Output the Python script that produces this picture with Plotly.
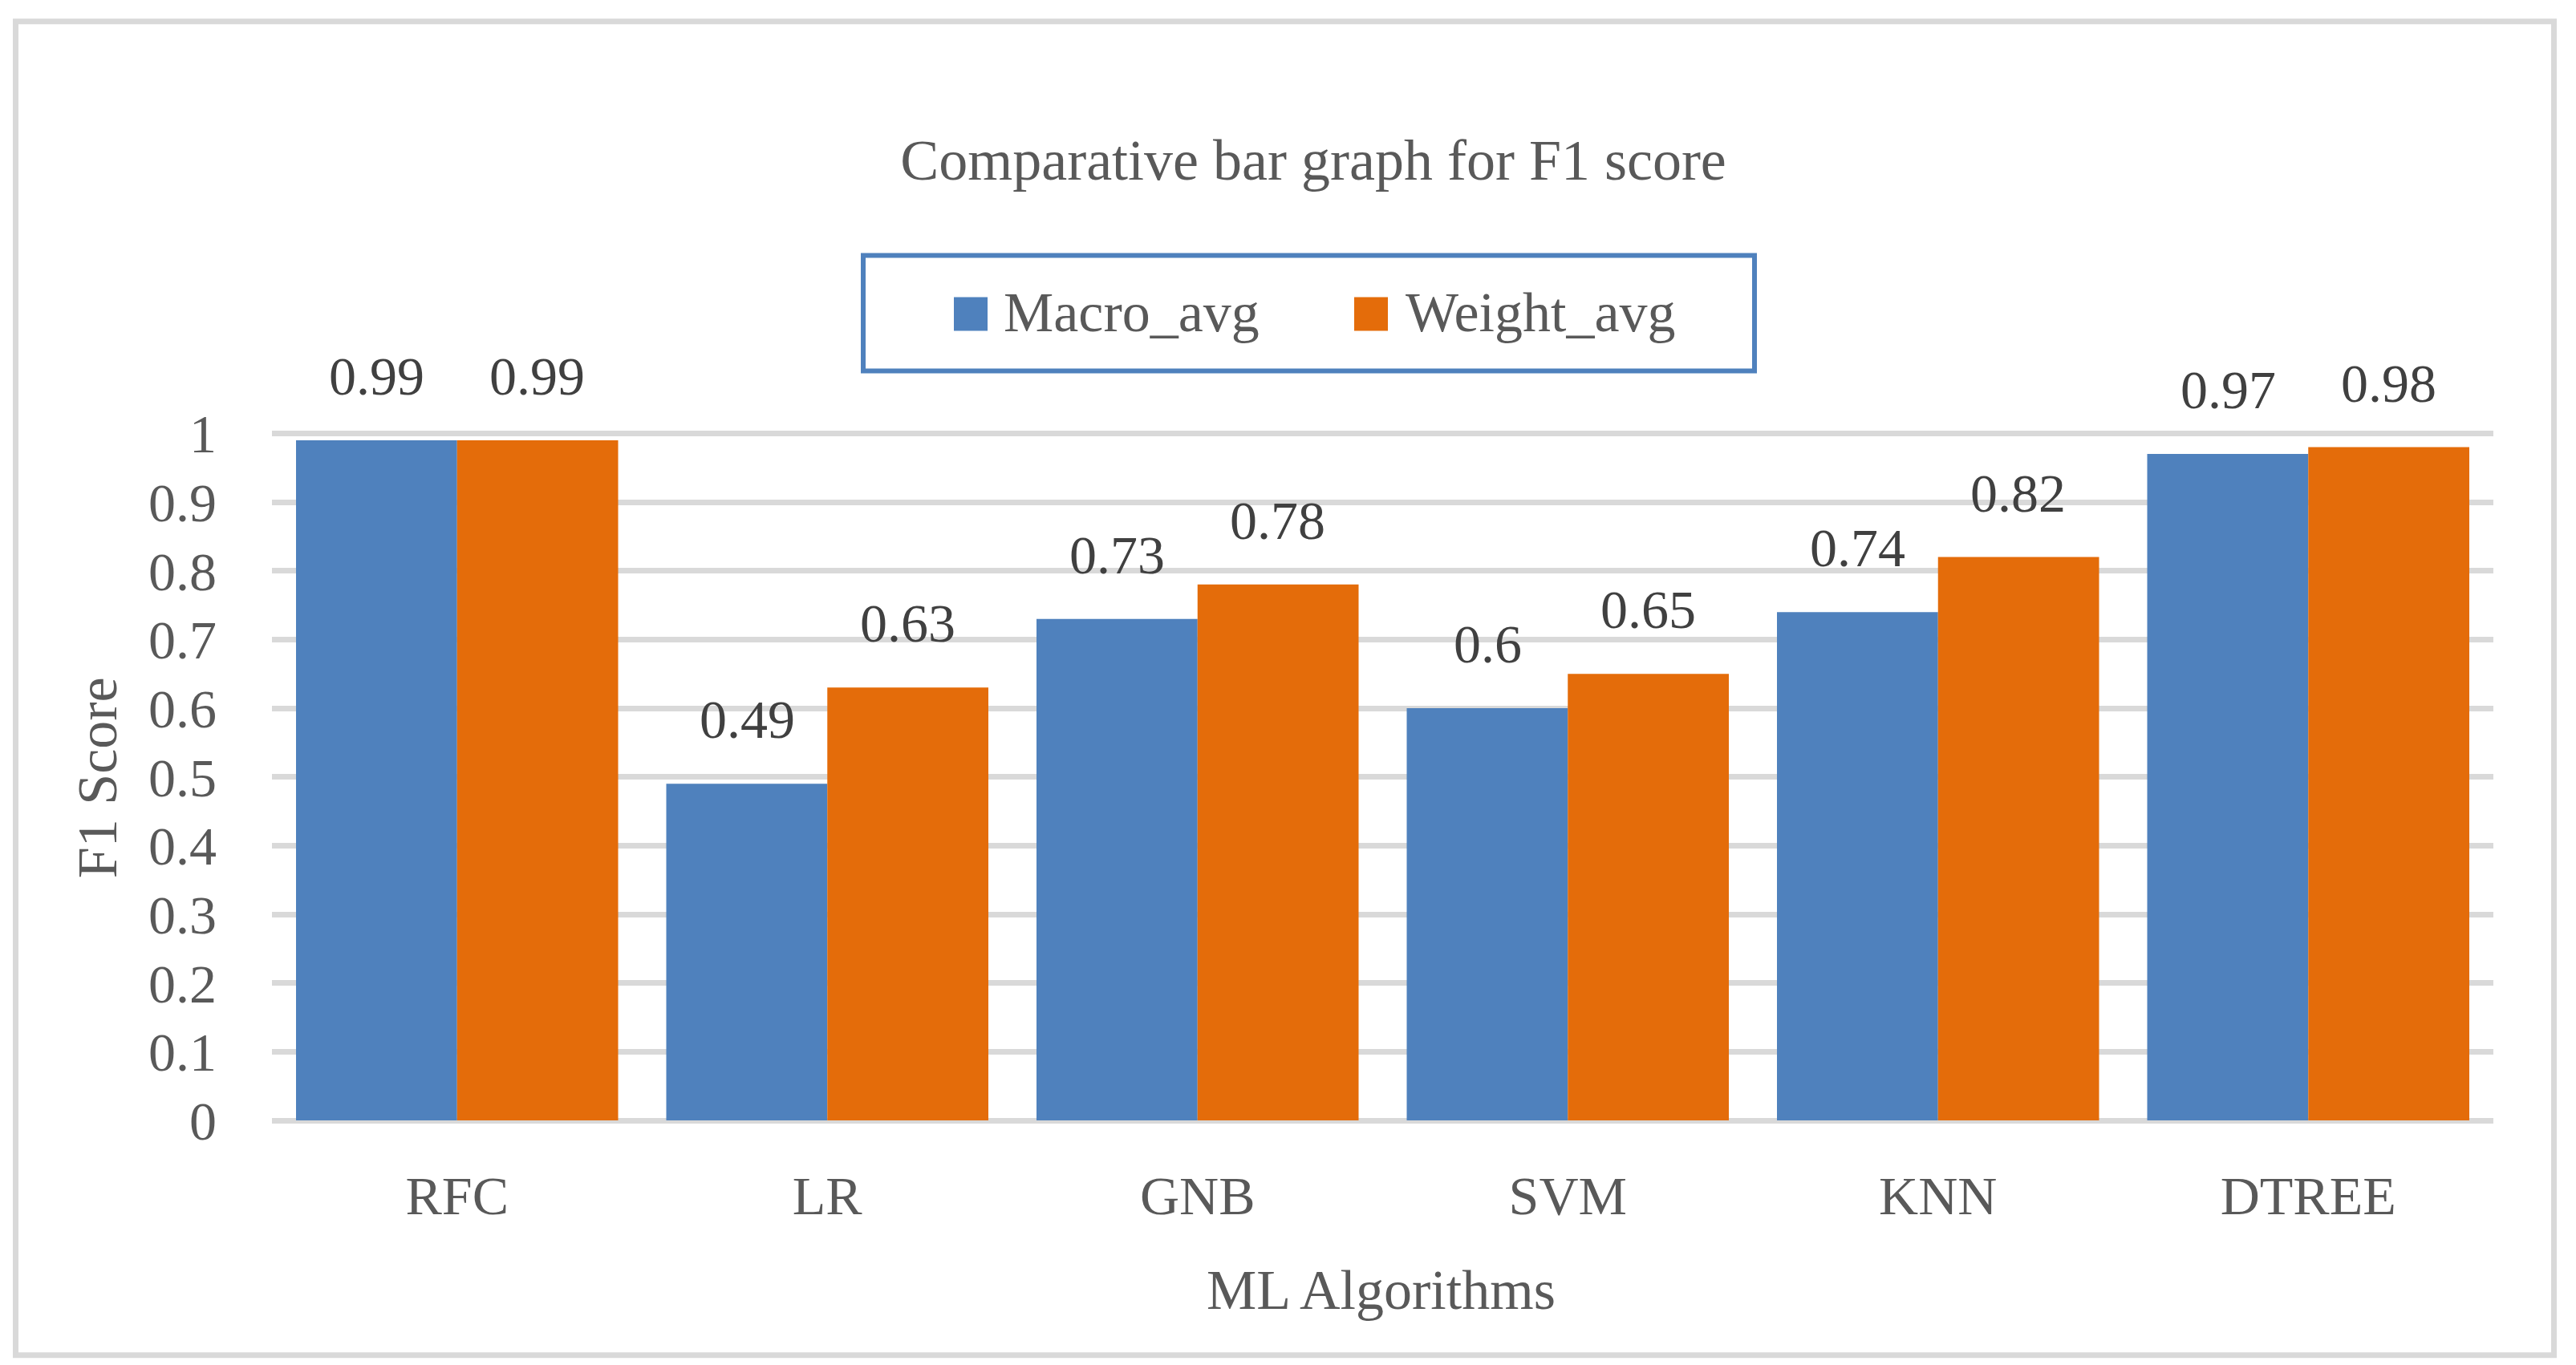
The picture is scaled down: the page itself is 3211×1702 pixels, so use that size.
import plotly.graph_objects as go

# ---- data ----
categories = ["RFC", "LR", "GNB", "SVM", "KNN", "DTREE"]
series_names = ["Macro_avg", "Weight_avg"]
macro_avg = [0.99, 0.49, 0.73, 0.60, 0.74, 0.97]
weight_avg = [0.99, 0.63, 0.78, 0.65, 0.82, 0.98]
y_tickvals = [0, 0.1, 0.2, 0.3, 0.4, 0.5, 0.6, 0.7, 0.8, 0.9, 1]
y_ticktext = ["0", "0.1", "0.2", "0.3", "0.4", "0.5", "0.6", "0.7", "0.8", "0.9", "1"]
chart_title = "Comparative bar graph for F1 score"
x_title = "ML Algorithms"
y_title = "F1 Score"

# ---- style ----
OFF = 8                    # default page body margin
W, H = 3211 - 2 * OFF, 1702 - 2 * OFF
FONT = "Liberation Serif"
BLUE = "#4f81bd"
ORANGE = "#e46c0a"
GRID = "#d9d9d9"
TXT = "#595959"
LBL = "#404040"

# positions below are page pixels; converted to figure pixels by subtracting OFF
L, R = 339 - OFF, 3108 - OFF
Y0 = 1397 - OFF
PPU = 857
YMAX = 1.004
T = Y0 - YMAX * PPU


def px(x):
    return (x - OFF - L) / (R - L)


def py(y):
    return (Y0 - (y - OFF)) / (Y0 - T)


fig = go.Figure()
colors = [BLUE, ORANGE]
for name, vals, col in zip(series_names, [macro_avg, weight_avg], colors):
    fig.add_trace(go.Bar(x=categories, y=vals, name=name,
                         marker=dict(color=col, line=dict(width=0)),
                         showlegend=False))

annotations = []
# data labels
for si, vals in enumerate([macro_avg, weight_avg]):
    shift = -100 if si == 0 else 100
    for c, v in zip(categories, vals):
        annotations.append(dict(x=c, y=v, xref="x", yref="y", text=f"{v:g}", showarrow=False,
                                xshift=shift, yshift=80, yanchor="middle", xanchor="center",
                                font=dict(family=FONT, size=68, color=LBL)))

# axis titles
annotations.append(dict(x=px(1721), y=py(1609), xref="paper", yref="paper", text=x_title,
                        showarrow=False, xanchor="center", yanchor="middle",
                        font=dict(family=FONT, size=70, color=TXT)))
annotations.append(dict(x=px(121), y=py(969), xref="paper", yref="paper", text=y_title,
                        showarrow=False, xanchor="center", yanchor="middle", textangle=-90,
                        font=dict(family=FONT, size=70, color=TXT)))

# manual legend text
legend_text_x = [1249, 1750]
for name, lx in zip(series_names, legend_text_x):
    annotations.append(dict(x=px(lx), y=py(389), xref="paper", yref="paper", text=name,
                            showarrow=False, xanchor="left", yanchor="middle",
                            font=dict(family=FONT, size=70, color=TXT)))

shapes = []
# outer border
shapes.append(dict(type="rect", xref="paper", yref="paper",
                   x0=px(19.5), x1=px(3183.5), y0=py(1690), y1=py(26),
                   line=dict(color=GRID, width=7), fillcolor="rgba(0,0,0,0)", layer="below"))
# legend box
shapes.append(dict(type="rect", xref="paper", yref="paper",
                   x0=px(1076), x1=px(2187), y0=py(462), y1=py(318),
                   line=dict(color=BLUE, width=6), fillcolor="white"))
# legend swatches
for col, sx in zip(colors, [1189, 1688]):
    shapes.append(dict(type="rect", xref="paper", yref="paper",
                       x0=px(sx), x1=px(sx + 42), y0=py(412), y1=py(370),
                       line=dict(width=0), fillcolor=col))

fig.update_layout(
    width=W, height=H,
    margin=dict(l=L, r=W - R, t=T, b=H - Y0, pad=0),
    paper_bgcolor="white", plot_bgcolor="white",
    barmode="group", bargap=0.13, bargroupgap=0,
    title=dict(text=chart_title, xref="container", yref="container",
               x=(1637 - OFF) / W, y=1 - (199 - OFF) / H, xanchor="center", yanchor="middle",
               font=dict(family=FONT, size=72, color=TXT)),
    font=dict(family=FONT, size=68, color=TXT),
    annotations=annotations, shapes=shapes,
    showlegend=False,
)
fig.update_xaxes(showgrid=False, showline=False, zeroline=False, ticks="",
                 tickfont=dict(family=FONT, size=68, color=TXT), ticklabelstandoff=48)
fig.update_yaxes(range=[0, YMAX], tickvals=y_tickvals, ticktext=y_ticktext,
                 showgrid=True, gridcolor=GRID, gridwidth=7,
                 zeroline=True, zerolinecolor=GRID, zerolinewidth=7,
                 showline=False, ticks="", ticklabelstandoff=68,
                 tickfont=dict(family=FONT, size=68, color=TXT))

fig.write_html("out.html")
